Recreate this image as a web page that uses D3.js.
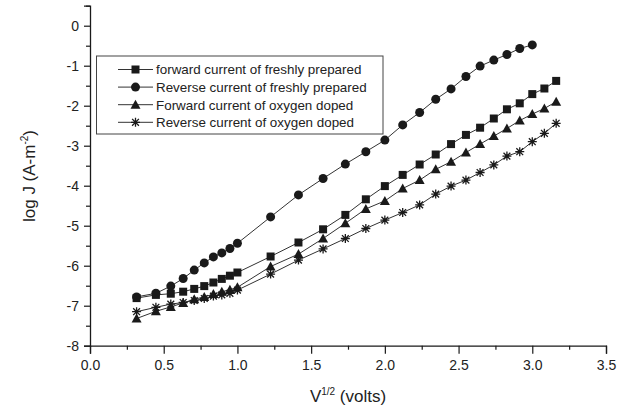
<!DOCTYPE html>
<html>
<head>
<meta charset="utf-8">
<script src="https://cdn.jsdelivr.net/npm/d3@7"></script>
<style>
  body { margin: 0; background: #fff; }
  svg { font-family: "Liberation Sans", Arial, sans-serif; }
</style>
</head>
<body>
<div id="chart"></div>
<script>
// sqrt(V) values where readings were taken
var xVals = [0.316, 0.447, 0.548, 0.632, 0.707, 0.775, 0.837, 0.894, 0.949, 1.0,
  1.225, 1.414, 1.581, 1.732, 1.871, 2.0, 2.121, 2.236, 2.345, 2.449, 2.550,
  2.646, 2.739, 2.828, 2.915, 3.0, 3.082, 3.162];

var fwdFresh = [-6.81, -6.73, -6.70, -6.65, -6.58, -6.51, -6.42, -6.33, -6.25, -6.17,
  -5.77, -5.42, -5.09, -4.73, -4.34, -4.01, -3.73, -3.47, -3.22, -2.96, -2.73,
  -2.55, -2.32, -2.09, -1.94, -1.71, -1.57, -1.38];
var revFresh = [-6.78, -6.69, -6.51, -6.32, -6.11, -5.93, -5.78, -5.68, -5.57, -5.44,
  -4.78, -4.23, -3.82, -3.46, -3.15, -2.86, -2.48, -2.17, -1.84, -1.58, -1.27,
  -1.01, -0.86, -0.72, -0.57, -0.48];
var fwdOxy = [-7.32, -7.14, -7.03, -6.93, -6.84, -6.78, -6.71, -6.65, -6.60, -6.54,
  -6.02, -5.71, -5.32, -4.94, -4.58, -4.38, -4.07, -3.86, -3.59, -3.40, -3.17,
  -2.96, -2.76, -2.57, -2.37, -2.21, -2.07, -1.90];
var revOxy = [-7.15, -7.04, -6.96, -6.92, -6.87, -6.82, -6.76, -6.73, -6.69, -6.61,
  -6.21, -5.86, -5.58, -5.32, -5.07, -4.86, -4.67, -4.48, -4.21, -4.01, -3.86,
  -3.67, -3.48, -3.26, -3.15, -2.90, -2.69, -2.44];

var seriesNames = ["forward current of freshly prepared", "Reverse current of freshly prepared",
  "Forward current of oxygen doped", "Reverse current of oxygen doped"];
var seriesShapes = ["square", "circle", "triangle", "star"];

var xTicks = [0, 0.5, 1, 1.5, 2, 2.5, 3, 3.5];
var xMinor = [0.25, 0.75, 1.25, 1.75, 2.25, 2.75, 3.25];
var yTicks = [-8, -7, -6, -5, -4, -3, -2, -1, 0];
var yMinor = [-7.5, -6.5, -5.5, -4.5, -3.5, -2.5, -1.5, -0.5, 0.5];

var width = 631, height = 410;
var ink = "#1a1a1a";

var svg = d3.select("#chart").append("svg")
  .attr("width", width).attr("height", height);

var x = d3.scaleLinear().domain([0, 3.5]).range([90, 606]);
var y = d3.scaleLinear().domain([-8, 0.5]).range([345.7, 5.7]);

// axes
svg.append("g").attr("transform", "translate(0,345.7)")
  .call(d3.axisBottom(x).tickValues(xTicks).tickSize(8).tickPadding(6)
    .tickFormat(function(d){ return d.toFixed(1); }));
svg.append("g").attr("transform", "translate(0,345.7)")
  .call(d3.axisBottom(x).tickValues(xMinor).tickSize(4).tickFormat(""))
  .select(".domain").remove();

svg.append("g").attr("transform", "translate(90,0)")
  .call(d3.axisLeft(y).tickValues(yTicks).tickSize(6).tickPadding(5)
    .tickFormat(function(d){ return d.toFixed(0); }));
svg.append("g").attr("transform", "translate(90,0)")
  .call(d3.axisLeft(y).tickValues(yMinor).tickSize(4).tickFormat(""))
  .select(".domain").remove();

svg.selectAll(".domain").attr("stroke", ink).attr("stroke-width", 1.3);
svg.selectAll(".tick line").attr("stroke", ink).attr("stroke-width", 1.2);
svg.selectAll(".tick text").attr("fill", "#222").style("font-size", "14px")
  .style("font-family", "'Liberation Sans', Arial, sans-serif");

// axis titles
var xt = svg.append("text").attr("x", 348).attr("y", 402)
  .attr("text-anchor", "middle").attr("fill", "#222").style("font-size", "17px");
xt.append("tspan").text("V");
xt.append("tspan").attr("dy", -7).style("font-size", "10px").text("1/2");
xt.append("tspan").attr("dy", 7).text(" (volts)");

var yt = svg.append("text").attr("transform", "translate(35,176) rotate(-90)")
  .attr("text-anchor", "middle").attr("fill", "#222").style("font-size", "17px");
yt.append("tspan").text("log J  (A-m");
yt.append("tspan").attr("dy", -7).style("font-size", "10px").text("-2");
yt.append("tspan").attr("dy", 7).text(")");

// marker drawing
function drawMarker(g, shape, cx, cy) {
  if (shape === "square") {
    g.append("rect").attr("x", cx - 4).attr("y", cy - 4)
      .attr("width", 8).attr("height", 8).attr("fill", ink);
  } else if (shape === "circle") {
    g.append("circle").attr("cx", cx).attr("cy", cy).attr("r", 4.5).attr("fill", ink);
  } else if (shape === "triangle") {
    g.append("path")
      .attr("d", "M" + cx + "," + (cy - 5) + "L" + (cx + 5) + "," + (cy + 4) + "L" + (cx - 5) + "," + (cy + 4) + "Z")
      .attr("fill", ink);
  } else {
    var r = 4.5, d = 3.4;
    g.append("path")
      .attr("d", "M" + (cx - r) + "," + cy + "h" + 2 * r +
        "M" + cx + "," + (cy - r) + "v" + 2 * r +
        "M" + (cx - d) + "," + (cy - d) + "l" + 2 * d + "," + 2 * d +
        "M" + (cx - d) + "," + (cy + d) + "l" + 2 * d + "," + (-2 * d))
      .attr("stroke", ink).attr("stroke-width", 1.3).attr("fill", "none");
    g.append("circle").attr("cx", cx).attr("cy", cy).attr("r", 1.5).attr("fill", ink);
  }
}

var allSeries = [fwdFresh, revFresh, fwdOxy, revOxy];

var line = d3.line()
  .x(function(d){ return x(d[0]); })
  .y(function(d){ return y(d[1]); });

var plot = svg.append("g");
allSeries.forEach(function(vals, i) {
  var pts = vals.map(function(v, j){ return [xVals[j], v]; });
  plot.append("path").datum(pts).attr("d", line)
    .attr("fill", "none").attr("stroke", "#333").attr("stroke-width", 1);
});
allSeries.forEach(function(vals, i) {
  var g = plot.append("g");
  vals.forEach(function(v, j) {
    drawMarker(g, seriesShapes[i], x(xVals[j]), y(v));
  });
});

// legend
var leg = svg.append("g");
leg.append("rect").attr("x", 96.5).attr("y", 56).attr("width", 286.5).attr("height", 78)
  .attr("fill", "#fff").attr("stroke", "#444").attr("stroke-width", 1);
seriesNames.forEach(function(name, i) {
  var ly = 69.5 + i * 17.6;
  leg.append("line").attr("x1", 118).attr("x2", 153).attr("y1", ly).attr("y2", ly)
    .attr("stroke", "#333").attr("stroke-width", 1);
  drawMarker(leg, seriesShapes[i], 135.5, ly);
  leg.append("text").attr("x", 156).attr("y", ly + 4.8).attr("fill", "#222")
    .style("font-size", "13.4px").text(name);
});
</script>
</body>
</html>
